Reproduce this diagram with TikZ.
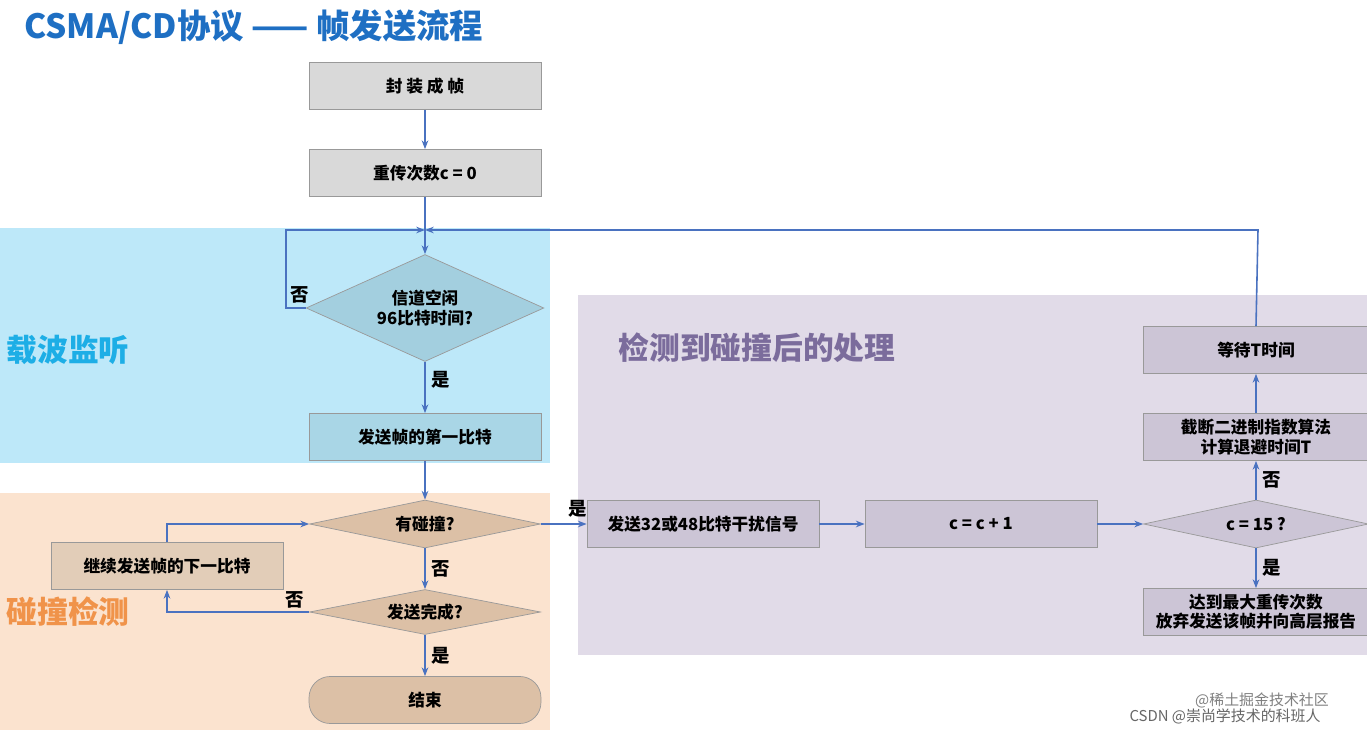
\documentclass[tikz,border=0pt]{standalone}
\usepackage{fontspec}
\setmainfont{Noto Sans CJK SC}
\usetikzlibrary{shapes.geometric,arrows.meta}
\definecolor{ln}{HTML}{4A72C0}
\definecolor{bx}{HTML}{D9D9D9}
\definecolor{pu}{HTML}{CCC5D6}
\definecolor{br}{HTML}{DCC0A6}
\definecolor{bgb}{HTML}{BDE8F9}
\definecolor{bgo}{HTML}{FBE3CF}
\definecolor{bgp}{HTML}{E1DBE8}
\definecolor{tt}{HTML}{1E6FC3}
\definecolor{lbb}{HTML}{1DAEE6}
\definecolor{lbo}{HTML}{F0934A}
\definecolor{lbp}{HTML}{7B6C9C}
\definecolor{dbl}{HTML}{A3CFDF}
\definecolor{bbl}{HTML}{A9D6E6}
\definecolor{lbr}{HTML}{E2CDB8}
\begin{document}
\begin{tikzpicture}[x=0.02cm,y=-0.02cm,
 box/.style={draw=gray!80,fill=bx,minimum width=4.64cm,minimum height=0.94cm,font=\bfseries\fontsize{9.5}{11}\selectfont,align=center,inner sep=1pt},
 dia/.style={draw=gray!80,diamond,shape aspect=4,inner sep=0pt,minimum width=4.62cm,minimum height=#1,font=\bfseries\fontsize{9.5}{11}\selectfont,align=center},
 ar/.style={draw=ln,line width=0.9pt,-{Stealth[length=5pt]}},
 lb/.style={font=\bfseries\fontsize{10.5}{11}\selectfont}]
\useasboundingbox (0,0) rectangle (1367,733);
\fill[white] (0,0) rectangle (1367,733);
\fill[bgb] (0,228) rectangle (550,463);
\fill[bgo] (0,493) rectangle (550,730);
\fill[bgp] (578,295) rectangle (1367,655);
\node[anchor=west,text=tt,font=\bfseries\fontsize{19}{20}\selectfont] (title) at (18,27) {CSMA/CD协议 —— 帧发送流程};
\node[text=lbb,font=\bfseries\fontsize{17.5}{18}\selectfont] (l1) at (68,350) {载波监听};
\node[text=lbo,font=\bfseries\fontsize{17.5}{18}\selectfont] (l2) at (68,612) {碰撞检测};
\node[text=lbp,font=\bfseries\fontsize{17.5}{18}\selectfont] (l3) at (757,348) {检测到碰撞后的处理};
\node[box] (a) at (425,86) {封\ 装\ 成\ 帧};
\node[box] (b) at (425,173) {重传次数c = 0};
\node[dia=2.14cm,fill=dbl] (d1) at (425,308) {信道空闲\\96比特时间?};
\node[box,fill=bbl] (c) at (425,437) {发送帧的第一比特};
\node[dia=0.96cm,fill=br] (d2) at (425,524) {有碰撞?};
\node[box,fill=lbr] (e) at (167,566) {继续发送帧的下一比特};
\node[dia=0.9cm,fill=br] (d3) at (425,612) {发送完成?};
\node[box,rounded corners=12pt,fill=br] (f) at (425,700) {结束};
\node[box,fill=pu] (g) at (703,524) {发送32或48比特干扰信号};
\node[box,fill=pu] (h) at (981,524) {c = c + 1};
\node[dia=0.96cm,fill=pu,minimum width=4.5cm] (d4) at (1256,524) {c = 15 ?};
\node[box,fill=pu,minimum width=4.5cm] (i) at (1256,612) {达到最大重传次数\\放弃发送该帧并向高层报告};
\node[box,fill=pu,minimum width=4.5cm] (j) at (1256,437) {截断二进制指数算法\\计算退避时间T};
\node[box,fill=pu,minimum width=4.5cm] (k) at (1256,350) {等待T时间};
\coordinate (top) at (425,230);
\draw[ar] (a) -- (b);
\draw[ar] (b) -- (d1);
\draw[ar] (d1.west) -- (286,308) -- (286,230) -- (top);
\node[lb] (n1) at (300,295) {否};
\draw[ar] (d1) -- node[lb,right,pos=0.35] {是} (c);
\draw[ar] (c) -- (d2);
\draw[ar] (d2) -- node[lb,above right,pos=0.45] {是} (g);
\draw[ar] (d2) -- node[lb,right] {否} (d3);
\draw[ar] (d3.west) -- (167,612) -- (e.south);
\node[lb] (n2) at (295,600) {否};
\draw[ar] (e.north) -- (167,524) -- (d2.west);
\draw[ar] (d3) -- node[lb,right] {是} (f);
\draw[ar] (g) -- (h);
\draw[ar] (h) -- (d4);
\draw[ar] (d4) -- node[lb,right] {否} (j);
\draw[ar] (d4) -- node[lb,right] {是} (i);
\draw[ar] (j) -- (k);
\draw[ar] (k.north) -- (1258,230) -- (top);
\node[text=gray,font=\fontsize{8.5}{9}\selectfont] (w1) at (1262,700) {@稀土掘金技术社区};
\node[text=gray!80!black,font=\fontsize{8.5}{9}\selectfont] (w2) at (1225,716) {CSDN @崇尚学技术的科班人};
\end{tikzpicture}
\end{document}
